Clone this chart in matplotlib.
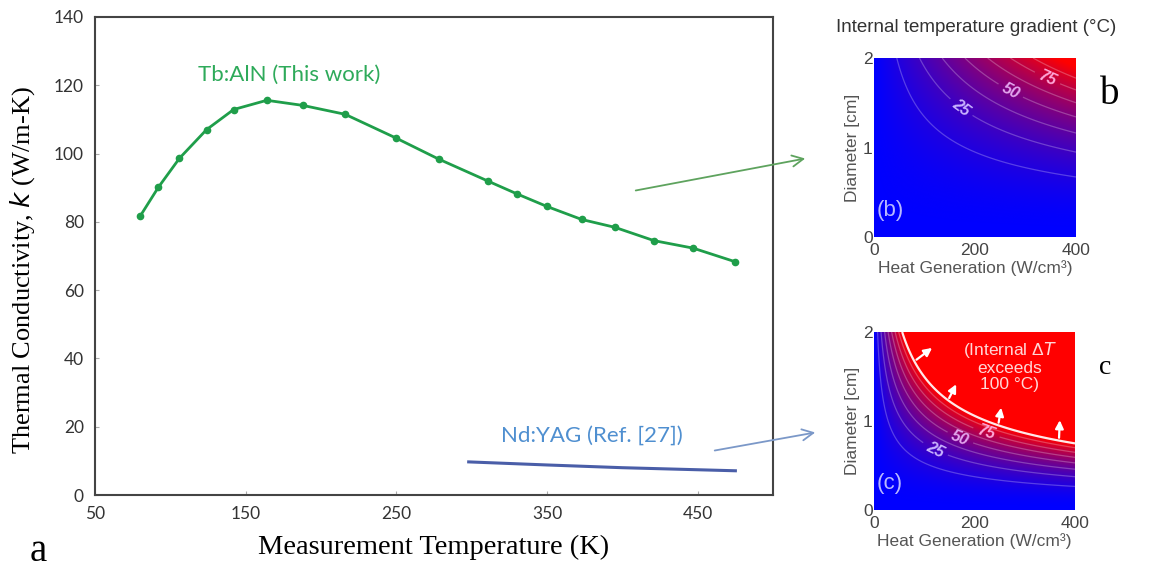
import numpy as np
import matplotlib
matplotlib.use("Agg")
import matplotlib.pyplot as plt
from matplotlib.colors import LinearSegmentedColormap, Normalize

# Tb:AlN thermal conductivity vs temperature
temp_aln = [80, 92, 106, 124, 142, 164, 188, 216, 250, 278, 311, 330, 350, 373, 395, 421, 447, 475]
k_aln = [81.7, 90.1, 98.6, 107.0, 112.9, 115.6, 114.1, 111.5, 104.5, 98.4, 91.9, 88.2, 84.5, 80.7,
         78.4, 74.5, 72.3, 68.3]

# Nd:YAG reference curve
temp_yag = [298, 350, 400, 450, 475]
k_yag = [9.7, 8.8, 8.0, 7.4, 7.1]

x_ticks = [50, 150, 250, 350, 450]
y_ticks = [0, 20, 40, 60, 80, 100, 120, 140]

# rod model: dT = q * D^2 / (16 k), q in W/cm3, D in cm, k in W/cm-K
cond_aln_cm = 0.9
cond_yag_cm = 0.14
q_range = [0, 400]
d_range = [0, 2]
contour_levels = [12.5, 25, 37.5, 50, 62.5, 75, 87.5]
label_levels = [25, 50, 75]
label_pos_b = [(173, 1.45), (273, 1.66), (347, 1.82)]
label_pos_c = [(120, 0.66), (170, 0.79), (223, 0.86)]
arrow_tails_c = [(80, 1.67), (147, 1.23), (247, 0.95), (368, 0.78)]
arrow_heads_c = [(120, 1.84), (166, 1.44), (254, 1.18), (370, 1.04)]

plt.rcParams["font.family"] = "Liberation Sans"

fig = plt.figure(figsize=(11.49, 5.76), dpi=100)

# ---- panel a ----
ax = fig.add_axes([0.0827, 0.1406, 0.5901, 0.8299])
ax.plot(temp_aln, k_aln, color="#1f9e4a", lw=2, marker="o", ms=4.5, zorder=3)
ax.plot(temp_yag, k_yag, color="#4a5ea8", lw=2.2, zorder=3)
ax.set_xlim(50, 500)
ax.set_ylim(0, 140)
ax.set_xticks(x_ticks)
ax.set_yticks(y_ticks)
ax.tick_params(direction="in", length=3, color="#aaaaaa", labelsize=12.5, labelcolor="#333333", pad=8)
for lab in ax.get_xticklabels() + ax.get_yticklabels():
    lab.set_family("Lato")
for sp in ax.spines.values():
    sp.set_color("#444444")
    sp.set_linewidth(1.5)
ax.set_xlabel("Measurement Temperature (K)", family="Liberation Serif", fontsize=20.5, labelpad=9)
ax.set_ylabel("Thermal Conductivity, $k$ (W/m-K)", family="Liberation Serif", fontsize=19)
ax.yaxis.set_label_coords(-0.085, 0.47)
ax.text(179, 123, "Tb:AlN (This work)", color="#2eaa5a", family="Lato", fontsize=16, ha="center", va="center")
ax.text(380, 17.5, "Nd:YAG (Ref. [27])", color="#4f8fd0", family="Lato", fontsize=16, ha="center", va="center")
fig.text(0.033, 0.042, "a", family="Liberation Serif", fontsize=28, ha="center", va="center")

# arrows from panel a to the maps
fig.add_artist(matplotlib.patches.FancyArrowPatch((633 / 1149, 1 - 191 / 576), (808 / 1149, 1 - 158 / 576),
                                                  transform=fig.transFigure, arrowstyle="->", mutation_scale=20,
                                                  color="#5ea35e", lw=1.3))
fig.add_artist(matplotlib.patches.FancyArrowPatch((712 / 1149, 1 - 451 / 576), (818 / 1149, 1 - 432 / 576),
                                                  transform=fig.transFigure, arrowstyle="->", mutation_scale=20,
                                                  color="#7b98c8", lw=1.3))

# ---- panels b and c ----
cmap = LinearSegmentedColormap.from_list("br", ["#0000ff", "#ff0000"])
norm = Normalize(0, 100)
q = np.linspace(q_range[0], q_range[1], 400)
d = np.linspace(d_range[0], d_range[1], 400)
Q, D = np.meshgrid(q, d)


def draw_map(rect, cond, tag, label_pos, label_colors):
    axm = fig.add_axes(rect)
    dT = Q * D ** 2 / (16 * cond)
    axm.imshow(np.clip(dT, 0, 100), extent=q_range + d_range, origin="lower", aspect="auto",
               cmap=cmap, norm=norm, interpolation="bilinear")
    axm.contour(Q, D, dT, levels=[l for l in contour_levels if l not in label_levels],
                colors="white", linewidths=0.9, alpha=0.25)
    cs = axm.contour(Q, D, dT, levels=label_levels, colors="white", linewidths=0.9, alpha=0.25)
    labs = axm.clabel(cs, manual=label_pos, inline=True, fmt="%d", fontsize=11.5)
    for t, c in zip(labs, label_colors):
        t.set_color(c)
        t.set_alpha(1)
        t.set_fontweight("bold")
        t.set_fontstyle("italic")
    axm.set_xlim(q_range)
    axm.set_ylim(d_range)
    axm.set_xticks([0, 200, 400])
    axm.set_yticks([0, 1, 2])
    axm.tick_params(length=0, labelsize=12.5, labelcolor="#444444")
    axm.tick_params(axis="x", pad=4)
    axm.tick_params(axis="y", pad=1)
    for sp in axm.spines.values():
        sp.set_visible(False)
    axm.set_xlabel("Heat Generation (W/cm\u00b3)", fontsize=12.5, color="#555555", labelpad=2)
    axm.set_ylabel("Diameter [cm]", fontsize=12.5, color="#555555", labelpad=2)
    axm.text(5, 0.3, tag, color="#b8b8ff", fontsize=16, ha="left", va="center")
    return axm, dT


axb, _ = draw_map([0.7607, 0.5885, 0.1758, 0.3108], cond_aln_cm, "(b)", label_pos_b,
                  ["#c9b3ff", "#e3a6ef", "#ffa6d8"])
axc, dT_c = draw_map([0.7607, 0.1146, 0.1749, 0.3090], cond_yag_cm, "(c)", label_pos_c,
                     ["#c9b3ff", "#e3a6ef", "#ffa6d8"])
axc.contour(Q, D, dT_c, levels=[100], colors="#ffe8e8", linewidths=1.6)
for tail, head in zip(arrow_tails_c, arrow_heads_c):
    axc.annotate("", xy=head, xytext=tail,
                 arrowprops=dict(arrowstyle="-|>", color="white", lw=1.6, mutation_scale=12))
axc.text(270, 1.62, "(Internal \u0394$T$\nexceeds\n100 \u00b0C)", color="#ffd6d6", fontsize=12.5,
         ha="center", va="center", linespacing=1.1)

fig.text(976 / 1149, 1 - 28 / 576, "Internal temperature gradient (\u00b0C)", fontsize=13.5,
         color="#333333", ha="center", va="center")
fig.text(1110 / 1149, 1 - 95 / 576, "b", family="Liberation Serif", fontsize=28, ha="center", va="center")
fig.text(1105 / 1149, 1 - 367 / 576, "c", family="Liberation Serif", fontsize=20, ha="center", va="center")

fig.savefig("out.png", dpi=100)
